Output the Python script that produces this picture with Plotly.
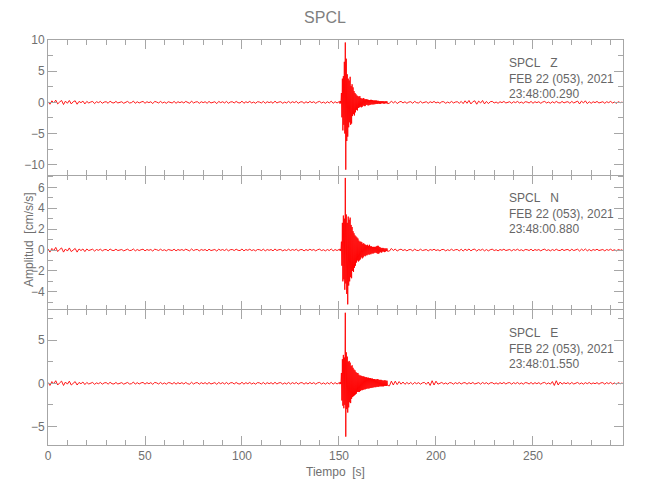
import numpy as np
import plotly.graph_objects as go
from plotly.subplots import make_subplots

# ---------------- data ----------------
t_pre = np.arange(0, 151)                     # 0 .. 150 s, 1 s
t_evt = 150 + 0.25 * np.arange(1, 101)        # 150.25 .. 175 s, 0.25 s
t_post = np.arange(176, 297)                  # 176 .. 296 s, 1 s

Z_pre = [0.1, -0.3, 0.25, -0.1, 0.35, -0.25, 0.05, 0.3, -0.35, 0.2,
         -0.15, 0.3, -0.25, 0.1, 0.25, -0.3, 0.15, -0.05, 0.2, -0.25,
         0.15, -0.1, 0.05, 0.15, -0.2, 0.1, -0.05, 0.15, -0.15, 0.05,
         0.1, -0.15, 0.2, -0.05, -0.1, 0.15, -0.1, 0.05, 0.1, -0.15,
         0.05, 0.15, -0.1, -0.05, 0.2, -0.15, 0.1, -0.1, 0.05, 0.15,
         -0.15, 0.1, -0.05, 0.1, -0.2, 0.15, 0.05, -0.1, 0.15, -0.1,
         0.05, -0.15, 0.1, 0.05, -0.1, 0.15, -0.15, 0.1, -0.05, 0.1,
         -0.1, 0.15, -0.05, -0.15, 0.2, -0.1, 0.05, 0.1, -0.15, 0.1,
         -0.05, 0.1, -0.15, 0.15, -0.1, 0.05, 0.1, -0.2, 0.15, -0.05,
         0.1, -0.1, 0.15, -0.15, 0.05, 0.1, -0.1, 0.15, -0.05, -0.1,
         0.2, -0.15, 0.1, -0.05, 0.15, -0.1, 0.05, -0.15, 0.1, 0.05,
         -0.1, 0.15, -0.15, 0.1, -0.05, 0.1, -0.15, 0.2, -0.1, 0.05,
         0.1, -0.15, 0.05, -0.1, 0.15, -0.1, 0.1, -0.05, 0.15, -0.15,
         0.05, 0.1, -0.15, 0.1, -0.1, 0.15, -0.05, 0.1, -0.15, 0.05,
         0.15, -0.1, 0.05, -0.15, 0.1, -0.1, 0.2, -0.15, 0.1, -0.1,
         0.15]
Z_evt = [0.15, -0.2, 0.2, -0.15,
         1.5, -2.4, 3.8, -4.5,
         4.2, -3.6, 6.5, -5.0,
         9.6, -10.8, 7.0, -6.2,
         4.5, -5.5, 3.8, -4.0,
         3.5, -3.2, 4.1, -3.6,
         2.6, -3.4, 2.9, -2.2,
         2.4, -1.9, 1.8, -2.1,
         1.5, -1.6, 1.3, -1.2,
         1.1, -1.3, 1.0, -0.9,
         0.9, -0.8, 1.0, -0.7,
         0.7, -0.8, 0.6, -0.7,
         0.6, -0.5, 0.7, -0.6,
         0.5, -0.6, 0.5, -0.4,
         0.5, -0.4, 0.45, -0.5,
         0.4, -0.45, 0.35, -0.4,
         0.4, -0.35, 0.4, -0.3,
         0.35, -0.35, 0.3, -0.3,
         0.3, -0.3, 0.3, -0.25,
         0.3, -0.25, 0.25, -0.25,
         0.25, -0.2, 0.2, -0.25,
         0.2, -0.25, 0.2, -0.15,
         0.2, -0.15, 0.2, -0.2,
         0.15, -0.2, 0.15, -0.15,
         0.2, -0.15, 0.15, -0.2]
Z_post = [-0.15, 0.2, -0.1, 0.15, -0.2, 0.05, 0.15, -0.1, 0.1, -0.15,
          0.05, 0.1, -0.15, 0.15, -0.05, -0.1, 0.15, -0.1, 0.05, 0.1,
          -0.15, 0.1, -0.05, 0.15, -0.1, 0.05, -0.15, 0.1, 0.1, -0.15,
          0.05, -0.1, 0.15, -0.1, 0.05, 0.1, -0.15, 0.15, -0.2, 0.25,
          -0.15, 0.3, -0.25, 0.1, 0.25, -0.3, 0.2, -0.1, 0.3, -0.25,
          0.15, -0.2, 0.1, 0.15, -0.1, 0.05, -0.15, 0.1, -0.05, 0.15,
          -0.1, 0.05, 0.1, -0.15, 0.1, -0.05, 0.15, -0.1, 0.05, -0.15,
          0.1, 0.05, -0.1, 0.15, -0.15, 0.1, -0.05, 0.1, -0.15, 0.05,
          0.15, -0.1, 0.05, -0.15, 0.1, -0.1, 0.15, -0.05, -0.1, 0.15,
          -0.1, 0.05, 0.1, -0.15, 0.15, -0.1, 0.05, 0.2, -0.25, 0.2,
          -0.1, 0.25, -0.2, 0.1, -0.15, 0.1, -0.05, 0.15, -0.1, 0.05,
          0.1, -0.15, 0.1, -0.05, 0.15, -0.1, 0.05, -0.15, 0.1, -0.05,
          0.05]

N_pre = [0.1, -0.2, 0.15, -0.05, 0.25, -0.15, 0.05, 0.2, -0.2, 0.1,
         -0.1, 0.2, -0.15, 0.05, 0.15, -0.2, 0.1, -0.05, 0.1, -0.15,
         0.1, -0.05, 0.03, 0.08, -0.1, 0.05, -0.03, 0.08, -0.08, 0.03,
         0.05, -0.08, 0.1, -0.03, -0.05, 0.08, -0.05, 0.03, 0.05, -0.08,
         0.03, 0.08, -0.05, -0.03, 0.1, -0.08, 0.05, -0.05, 0.03, 0.08,
         -0.08, 0.05, -0.03, 0.05, -0.1, 0.08, 0.03, -0.05, 0.08, -0.05,
         0.03, -0.08, 0.05, 0.03, -0.05, 0.08, -0.08, 0.05, -0.03, 0.05,
         -0.05, 0.08, -0.03, -0.08, 0.1, -0.05, 0.03, 0.05, -0.08, 0.05,
         -0.03, 0.05, -0.08, 0.08, -0.05, 0.03, 0.05, -0.1, 0.08, -0.03,
         0.05, -0.05, 0.08, -0.08, 0.03, 0.05, -0.05, 0.08, -0.03, -0.05,
         0.1, -0.08, 0.05, -0.03, 0.08, -0.05, 0.03, -0.08, 0.05, 0.03,
         -0.05, 0.08, -0.08, 0.05, -0.03, 0.05, -0.08, 0.1, -0.05, 0.03,
         0.05, -0.08, 0.03, -0.05, 0.08, -0.05, 0.05, -0.03, 0.08, -0.08,
         0.03, 0.05, -0.08, 0.05, -0.05, 0.08, -0.03, 0.05, -0.08, 0.03,
         0.08, -0.05, 0.03, -0.08, 0.05, -0.05, 0.1, -0.08, 0.05, -0.05,
         0.08]
N_evt = [0.08, -0.05, 0.1, -0.1,
         0.8, -1.5, 2.6, -3.0,
         3.3, -2.8, 3.0, -3.8,
         6.9, -3.2, 3.4, -4.2,
         2.6, -5.2, 3.2, -3.4,
         2.9, -3.0, 3.1, -2.6,
         2.4, -2.7, 2.2, -2.0,
         1.8, -2.1, 1.6, -1.7,
         1.4, -1.5, 1.3, -1.2,
         1.2, -1.0, 1.1, -1.1,
         0.9, -1.0, 0.8, -0.9,
         0.8, -0.7, 0.75, -0.8,
         0.6, -0.7, 0.65, -0.55,
         0.55, -0.6, 0.5, -0.5,
         0.45, -0.5, 0.5, -0.4,
         0.4, -0.45, 0.5, -0.4,
         0.35, -0.4, 0.35, -0.3,
         0.3, -0.35, 0.3, -0.3,
         0.3, -0.25, 0.3, -0.25,
         0.35, -0.3, 0.4, -0.35,
         0.4, -0.35, 0.3, -0.25,
         0.25, -0.2, 0.2, -0.25,
         0.2, -0.15, 0.2, -0.15,
         0.15, -0.2, 0.15, -0.15,
         0.15, -0.1, 0.15, -0.12]
N_post = [-0.1, 0.15, -0.05, 0.1, -0.1, 0.03, 0.08, -0.05, 0.05, -0.08,
          0.03, 0.05, -0.08, 0.08, -0.03, -0.05, 0.08, -0.05, 0.03, 0.05,
          -0.08, 0.05, -0.03, 0.08, -0.05, 0.03, -0.08, 0.05, 0.05, -0.08,
          0.03, -0.05, 0.08, -0.05, 0.03, 0.05, -0.08, 0.08, -0.1, 0.08,
          -0.05, 0.1, -0.08, 0.05, 0.08, -0.1, 0.05, -0.03, 0.08, -0.08,
          0.05, -0.08, 0.03, 0.08, -0.05, 0.03, -0.08, 0.05, -0.03, 0.08,
          -0.05, 0.03, 0.05, -0.08, 0.05, -0.03, 0.08, -0.05, 0.03, -0.08,
          0.05, 0.03, -0.05, 0.08, -0.08, 0.05, -0.03, 0.05, -0.08, 0.03,
          0.08, -0.05, 0.03, -0.08, 0.05, -0.05, 0.08, -0.03, -0.05, 0.08,
          -0.05, 0.03, 0.05, -0.08, 0.08, -0.05, 0.03, 0.08, -0.1, 0.08,
          -0.05, 0.1, -0.08, 0.05, -0.08, 0.05, -0.03, 0.08, -0.05, 0.03,
          0.05, -0.08, 0.05, -0.03, 0.08, -0.05, 0.03, -0.08, 0.05, -0.03,
          0.03]

E_pre = [0.1, -0.25, 0.2, -0.05, 0.3, -0.2, 0.05, 0.25, -0.25, 0.15,
         -0.1, 0.25, -0.2, 0.05, 0.2, -0.2, 0.1, -0.05, 0.15, -0.15,
         0.1, -0.08, 0.05, 0.1, -0.12, 0.05, -0.05, 0.1, -0.1, 0.05,
         0.08, -0.1, 0.12, -0.05, -0.08, 0.1, -0.08, 0.05, 0.08, -0.1,
         0.05, 0.1, -0.08, -0.05, 0.15, -0.1, 0.08, -0.08, 0.05, 0.1,
         -0.1, 0.08, -0.05, 0.08, -0.12, 0.1, 0.05, -0.08, 0.1, -0.08,
         0.05, -0.1, 0.08, 0.05, -0.08, 0.1, -0.1, 0.08, -0.05, 0.08,
         -0.08, 0.1, -0.05, -0.1, 0.12, -0.08, 0.05, 0.08, -0.1, 0.08,
         -0.05, 0.08, -0.1, 0.1, -0.08, 0.05, 0.08, -0.12, 0.1, -0.05,
         0.08, -0.08, 0.1, -0.1, 0.05, 0.08, -0.08, 0.1, -0.05, -0.08,
         0.12, -0.1, 0.08, -0.05, 0.1, -0.08, 0.05, -0.1, 0.08, 0.05,
         -0.08, 0.1, -0.1, 0.08, -0.05, 0.08, -0.1, 0.12, -0.08, 0.05,
         0.08, -0.1, 0.05, -0.08, 0.1, -0.08, 0.08, -0.05, 0.1, -0.1,
         0.05, 0.08, -0.1, 0.08, -0.08, 0.1, -0.05, 0.08, -0.1, 0.05,
         0.1, -0.08, 0.05, -0.1, 0.08, -0.08, 0.12, -0.1, 0.08, -0.08,
         0.1]
E_evt = [0.1, -0.1, 0.12, -0.08,
         1.2, -2.0, 2.8, -2.6,
         3.3, -2.9, 3.0, -2.5,
         8.2, -6.2, 3.6, -3.0,
         3.1, -3.4, 2.5, -2.8,
         2.6, -2.2, 2.4, -2.3,
         2.0, -1.8, 2.1, -1.6,
         1.8, -1.5, 1.6, -1.4,
         1.5, -1.3, 1.3, -1.2,
         1.2, -1.0, 1.2, -1.0,
         1.0, -1.0, 0.9, -0.9,
         0.9, -0.8, 0.85, -0.8,
         0.8, -0.75, 0.8, -0.7,
         0.75, -0.7, 0.7, -0.65,
         0.7, -0.6, 0.65, -0.6,
         0.65, -0.6, 0.6, -0.55,
         0.6, -0.55, 0.55, -0.5,
         0.55, -0.5, 0.5, -0.45,
         0.5, -0.45, 0.45, -0.45,
         0.45, -0.4, 0.5, -0.4,
         0.45, -0.4, 0.4, -0.35,
         0.4, -0.35, 0.4, -0.35,
         0.35, -0.35, 0.3, -0.35,
         0.35, -0.3, 0.35, -0.3,
         0.3, -0.3, 0.3, -0.25]
E_post = [-0.3, 0.25, -0.2, 0.25, -0.15, 0.2, -0.1, 0.15, -0.12, 0.1,
          -0.08, 0.1, -0.12, 0.1, -0.05, 0.08, -0.1, 0.05, 0.1, -0.12,
          0.15, -0.25, 0.3, -0.2, 0.25, -0.1, 0.05, 0.1, -0.08, 0.05,
          -0.1, 0.08, 0.05, -0.1, 0.08, -0.05, 0.1, -0.08, 0.05, 0.08,
          -0.1, 0.08, -0.05, 0.1, -0.08, 0.05, 0.08, -0.1, 0.1, -0.05,
          0.08, -0.1, 0.05, 0.08, -0.08, 0.05, -0.1, 0.08, -0.05, 0.1,
          -0.08, 0.05, 0.08, -0.1, 0.08, -0.05, 0.1, -0.08, 0.05, -0.1,
          0.08, 0.05, -0.08, 0.1, -0.1, 0.08, -0.05, 0.08, -0.1, 0.05,
          0.1, -0.08, 0.05, -0.1, 0.2, -0.25, 0.3, -0.2, 0.15, -0.1,
          0.08, -0.05, 0.08, -0.1, 0.1, -0.08, 0.05, 0.1, -0.08, 0.05,
          -0.1, 0.08, -0.05, 0.1, -0.08, 0.05, -0.05, 0.08, -0.1, 0.05,
          0.08, -0.1, 0.08, -0.05, 0.1, -0.08, 0.05, -0.1, 0.08, -0.05,
          0.05]

station = "SPCL"
components = ["Z", "N", "E"]
date_label = "FEB 22 (053), 2021"
start_times = ["23:48:00.290", "23:48:00.880", "23:48:01.550"]
y_ranges = [[-11.65, 10.0], [-5.74, 7.18], [-7.17, 8.52]]
y_dticks = [5, 2, 5]
x_range = [0, 296.4]

t = np.concatenate([t_pre, t_evt, t_post])
traces = [np.concatenate([Z_pre, Z_evt, Z_post]),
          np.concatenate([N_pre, N_evt, N_post]),
          np.concatenate([E_pre, E_evt, E_post])]

# ---------------- figure ----------------
FONT = "Liberation Sans, Arial, sans-serif"
AX = "#a6a6a6"
TXT = "#707070"

fig = make_subplots(rows=3, cols=1, shared_xaxes=True, vertical_spacing=0)

for i, y in enumerate(traces):
    fig.add_trace(go.Scatter(x=t, y=y, mode="lines",
                             line=dict(color="#ff0000", width=0.9),
                             showlegend=False, hoverinfo="skip"),
                  row=i + 1, col=1)
    fig.update_yaxes(range=y_ranges[i], dtick=y_dticks[i], tick0=0,
                     minor=dict(dtick=y_dticks[i] / 2, ticks="inside",
                                ticklen=5, tickcolor=AX, showgrid=False),
                     row=i + 1, col=1)

fig.update_xaxes(range=x_range, dtick=50, tick0=0,
                 showline=True, linecolor=AX, linewidth=1, mirror="ticks",
                 ticks="inside", ticklen=9, tickcolor=AX, showgrid=False,
                 zeroline=False,
                 minor=dict(dtick=10, ticks="inside", ticklen=5, tickcolor=AX,
                            showgrid=False),
                 tickfont=dict(family=FONT, size=12, color=TXT))
# the middle panel's frame lines coincide with its neighbours' lines
fig.update_xaxes(linecolor="rgba(0,0,0,0)", row=2, col=1)
fig.update_yaxes(showline=True, linecolor=AX, linewidth=1, mirror="ticks",
                 ticks="inside", ticklen=9, tickcolor=AX, showgrid=False,
                 zeroline=False,
                 tickfont=dict(family=FONT, size=12, color=TXT))

# plot area (figure coords): x 40..615 px, y 32..437 px
L, R, T, B = 40, 35, 32, 63
W = 650 - L - R
H = 500 - T - B
panel_tops = [32, 167, 302]
x_text = (499 - L) / W

annotations = []
for i, comp in enumerate(components):
    txt = "<br>".join([station + "\u00a0\u00a0\u00a0" + comp, date_label,
                       start_times[i]])
    ypx = panel_tops[i] + 13.5
    annotations.append(dict(text=txt, xref="paper", yref="paper",
                            x=x_text, y=(T + H - ypx) / H,
                            xanchor="left", yanchor="top", align="left",
                            showarrow=False,
                            font=dict(family=FONT, size=12, color="#666666")))

annotations.append(dict(text="Tiempo  [s]", xref="paper", yref="paper",
                        x=(327 - L) / W, y=(T + H - 463.5) / H,
                        xanchor="center", yanchor="middle", showarrow=False,
                        font=dict(family=FONT, size=12, color=TXT)))
annotations.append(dict(text="Amplitud  [cm/s/s]", xref="paper", yref="paper",
                        x=(21 - L) / W, y=(T + H - 232) / H,
                        xanchor="center", yanchor="middle", textangle=-90,
                        showarrow=False,
                        font=dict(family=FONT, size=12, color=TXT)))

fig.update_layout(
    width=650, height=500,
    margin=dict(l=L, r=R, t=T, b=B),
    paper_bgcolor="white", plot_bgcolor="white",
    title=dict(text=station, x=(317 - L) / W, xref="paper",
               xanchor="center", y=1 - 9 / 500, yanchor="middle",
               font=dict(family=FONT, size=16, color="#808080")),
    annotations=annotations,
)

fig.write_html("out.html")
